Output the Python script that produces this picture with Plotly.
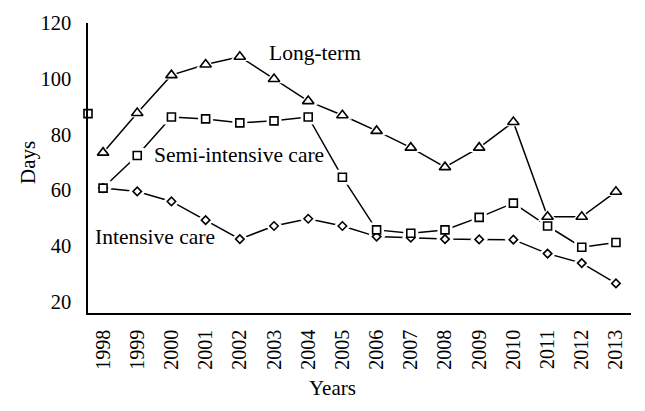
import plotly.graph_objects as go

years = list(range(1998, 2014))
long_term = [73.5, 87.7, 101.3, 105.1, 107.9, 99.9, 92.0, 86.9, 81.3, 75.3, 68.3, 75.3, 84.5, 50.5, 50.5, 59.5]
semi_intensive = [60.8, 72.5, 86.3, 85.6, 84.2, 84.9, 86.3, 64.7, 45.8, 44.6, 45.8, 50.3, 55.4, 47.2, 39.6, 41.3]
intensive = [60.8, 59.6, 56.0, 49.3, 42.5, 47.2, 49.8, 47.2, 43.4, 43.0, 42.5, 42.4, 42.3, 37.3, 33.9, 26.6]
stray_x = [1997.56]
stray_y = [87.5]

y_ticks = [20, 40, 60, 80, 100, 120]
FONT = "Liberation Serif"

fig = go.Figure()

# drawing order: intensive first so squares cover the shared 1998 point
series = [
    (intensive, "diamond", 6.5),
    (semi_intensive, "square", 8),
    (long_term, "triangle-up", 10),
]

for vals, sym, sz in series:
    fig.add_trace(go.Scatter(x=years, y=vals, mode="lines",
                             line=dict(color="black", width=1.5),
                             showlegend=False, hoverinfo="skip"))
for vals, sym, sz in series:
    fig.add_trace(go.Scatter(x=years, y=vals, mode="markers",
                             marker=dict(symbol=sym, size=sz + 7, color="white",
                                         line=dict(width=0)),
                             showlegend=False, hoverinfo="skip", cliponaxis=False))
for vals, sym, sz in series:
    fig.add_trace(go.Scatter(x=years, y=vals, mode="markers",
                             marker=dict(symbol=sym, size=sz, color="white",
                                         line=dict(width=1.6, color="black")),
                             showlegend=False, cliponaxis=False))

fig.add_trace(go.Scatter(x=stray_x, y=stray_y, mode="markers",
                         marker=dict(symbol="square", size=15, color="white", line=dict(width=0)),
                         showlegend=False, cliponaxis=False))
fig.add_trace(go.Scatter(x=stray_x, y=stray_y, mode="markers",
                         marker=dict(symbol="square", size=8, color="white",
                                     line=dict(width=1.6, color="black")),
                         showlegend=False, cliponaxis=False))

labels = [
    ("Long-term", 2002.80, 109.2),
    ("Semi-intensive care", 1999.43, 72.5),
    ("Intensive care", 1997.70, 43.3),
]
for text, x, y in labels:
    fig.add_annotation(x=x, y=y, text=text, showarrow=False, xanchor="left", yanchor="middle",
                       font=dict(family=FONT, size=21.5, color="black"))

fig.add_annotation(text="Years", xref="paper", yref="paper", x=(332 - 88) / (631 - 88),
                   y=-(388 - 313) / (313 - 23), showarrow=False,
                   xanchor="center", yanchor="middle",
                   font=dict(family=FONT, size=21, color="black"))
fig.add_annotation(text="Days", xref="paper", yref="paper", x=-(88 - 28) / (631 - 88),
                   y=(313 - 163) / (313 - 23), showarrow=False, textangle=-90,
                   xanchor="center", yanchor="middle",
                   font=dict(family=FONT, size=21, color="black"))

fig.update_layout(
    width=645, height=411,
    margin=dict(l=88, r=14, t=23, b=98),
    paper_bgcolor="white", plot_bgcolor="white",
    font=dict(family=FONT, size=20, color="black"),
    xaxis=dict(range=[1997.56, 2013.44], tickmode="array", tickvals=years,
               ticktext=[str(y) for y in years], tickangle=-90,
               showgrid=False, zeroline=False, showline=True, linecolor="black",
               linewidth=1.5, ticks="", ticklabelstandoff=7,
               tickfont=dict(family=FONT, size=20)),
    yaxis=dict(range=[16, 120], tickmode="array", tickvals=y_ticks,
               showgrid=False, zeroline=False, showline=True, linecolor="black",
               linewidth=1.5, ticks="", ticklabelstandoff=11,
               tickfont=dict(family=FONT, size=20.5)),
)

fig.write_html("out.html", config={"displayModeBar": False},
               post_script="document.body.style.margin='0px';")
